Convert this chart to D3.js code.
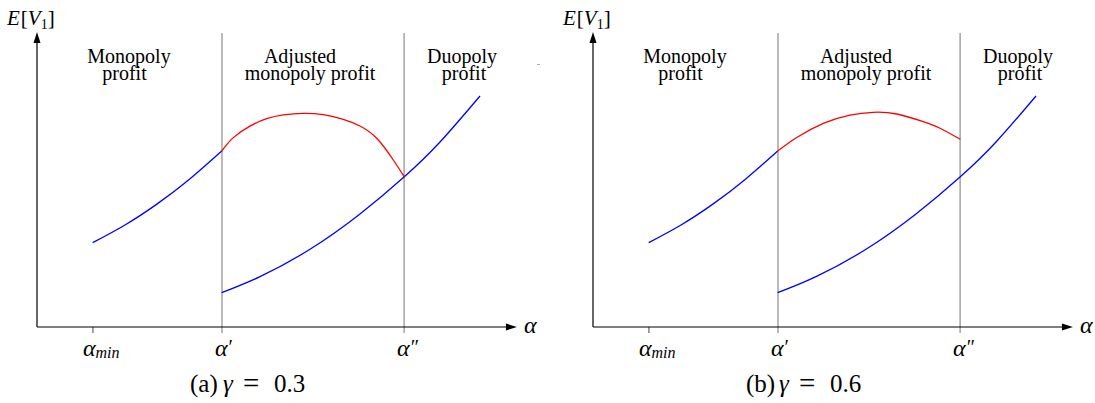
<!DOCTYPE html>
<html>
<head>
<meta charset="utf-8">
<script src="https://cdn.jsdelivr.net/npm/d3@7"></script>
<style>
  html, body { margin: 0; padding: 0; background: #fff; }
</style>
</head>
<body>
<svg id="chart" width="1095" height="403"></svg>
<script>
// ---- data (abstract units: alpha on [0,100], E[V1] on [0,100]) ----
const panelLetters = ["(a)", "(b)"];
const gammaValues = ["0.3", "0.6"];
const regionLabels = [["Monopoly", "profit"], ["Adjusted", "monopoly profit"], ["Duopoly", "profit"]];
const tickNames = ["min", "′", "″"];
const tickAlphas = [11.7, 38.7, 76.8];

// monopoly profit curve (left of alpha')
const monoAlpha = [11.65, 18.41, 25.15, 31.90, 38.64];
const monoValue = [28.58, 34.58, 41.73, 50.10, 59.66];

// duopoly profit curve (right of alpha')
const duoAlpha = [38.64, 46.65, 57.11, 67.57, 76.84, 84.31, 92.68];
const duoValue = [11.63, 17.05, 26.34, 38.31, 50.9, 62.71, 78.31];

// adjusted monopoly profit, gamma = 0.3
const adjAlphaA = [38.64, 41.07, 44.56, 48.05, 51.53, 55.71, 59.90, 64.08, 67.57, 71.07, 74.54, 76.84];
const adjValueA = [59.66, 64.2, 68.1, 70.6, 71.9, 72.44, 71.97, 70.41, 68.14, 63.97, 56.61, 50.9];

// adjusted monopoly profit, gamma = 0.6
const adjAlphaB = [38.64, 42.62, 48.18, 53.77, 58.64, 63.54, 69.10, 72.59, 76.84];
const adjValueB = [59.66, 64.24, 69.05, 71.86, 72.78, 72.20, 69.59, 67.36, 63.63];

const adjAlpha = [adjAlphaA, adjAlphaB];
const adjValue = [adjValueA, adjValueB];

// ---- drawing ----
const FONT = '"Liberation Serif"';
const svg = d3.select("#chart");
const panelOffset = 556;

const x = d3.scaleLinear().domain([0, 100]).range([37, 515]);
const y = d3.scaleLinear().domain([0, 100]).range([327, 32]);

const line = d3.line()
  .x(d => x(d[0]))
  .y(d => y(d[1]))
  .curve(d3.curveNatural);

const zip = (a, b) => a.map((v, i) => [v, b[i]]);
const txt = (sel) => sel.append("text").style("font-family", FONT);

panelLetters.forEach((letter, p) => {
  const g = svg.append("g").attr("transform", `translate(${p * panelOffset},0)`);

  // vertical region dividers at alpha' and alpha''
  [tickAlphas[1], tickAlphas[2]].forEach(a => {
    g.append("line")
      .attr("x1", x(a)).attr("x2", x(a))
      .attr("y1", 33).attr("y2", y(0) + 6)
      .attr("stroke", "#8c8c8c").attr("stroke-width", 1.2);
  });
  // alpha_min tick
  g.append("line")
    .attr("x1", x(tickAlphas[0])).attr("x2", x(tickAlphas[0]))
    .attr("y1", y(0)).attr("y2", y(0) + 6)
    .attr("stroke", "#555").attr("stroke-width", 1.1);

  // axes
  g.append("line")
    .attr("x1", x(0)).attr("x2", x(0))
    .attr("y1", y(0)).attr("y2", y(100) + 8)
    .attr("stroke", "#000").attr("stroke-width", 1.2);
  g.append("path")
    .attr("d", `M${x(0)},${y(100)} L${x(0) - 3.5},${y(100) + 11} L${x(0) + 3.5},${y(100) + 11} Z`)
    .attr("fill", "#000");
  g.append("line")
    .attr("x1", x(0)).attr("x2", x(100.4) - 8)
    .attr("y1", y(0)).attr("y2", y(0))
    .attr("stroke", "#000").attr("stroke-width", 1.2);
  g.append("path")
    .attr("d", `M${x(100.4)},${y(0)} L${x(100.4) - 11},${y(0) - 3.5} L${x(100.4) - 11},${y(0) + 3.5} Z`)
    .attr("fill", "#000");

  // axis labels
  const yl = txt(g).attr("x", 7).attr("y", 25).attr("font-size", 21);
  yl.append("tspan").style("font-style", "italic").text("E");
  yl.append("tspan").attr("dx", 1).text("[");
  yl.append("tspan").style("font-style", "italic").text("V");
  yl.append("tspan").attr("font-size", 14).attr("dy", 4).text("1");
  yl.append("tspan").attr("dy", -4).text("]");

  txt(g).attr("x", x(100.4) + 7).attr("y", y(0) + 6)
    .attr("font-size", 24).style("font-style", "italic").text("α");

  // tick labels
  tickAlphas.forEach((a, i) => {
    const t = txt(g).attr("y", 356).attr("font-size", 24).style("font-style", "italic");
    t.append("tspan").text("α");
    if (i === 0) {
      t.append("tspan").attr("font-size", 16).attr("dy", 2).text(tickNames[i]);
      t.attr("x", x(a) - 10);
    } else {
      t.append("tspan").style("font-style", "normal").attr("font-size", 20).attr("dy", -2).attr("dx", 1).text(tickNames[i]);
      t.attr("x", x(a) - 7);
    }
  });

  // region labels (two-line, one text element each)
  const regionCenters = [[129, 124.5], [300, 310], [462, 464]];
  regionLabels.forEach((lbl, i) => {
    const t = txt(g).attr("font-size", 20).attr("text-anchor", "middle");
    t.append("tspan").attr("x", regionCenters[i][0]).attr("y", 63).text(lbl[0]);
    t.append("tspan").attr("x", regionCenters[i][1]).attr("y", 80).text(lbl[1]);
  });

  // curves
  g.append("path").attr("d", line(zip(monoAlpha, monoValue)))
    .attr("fill", "none").attr("stroke", "#0000ff").attr("stroke-width", 1.3);
  g.append("path").attr("d", line(zip(duoAlpha, duoValue)))
    .attr("fill", "none").attr("stroke", "#0000ff").attr("stroke-width", 1.3);
  g.append("path").attr("d", line(zip(adjAlpha[p], adjValue[p])))
    .attr("fill", "none").attr("stroke", "#ff0000").attr("stroke-width", 1.3);

  // caption
  const cap = txt(g).attr("y", 392).attr("font-size", 25);
  cap.append("tspan").attr("x", 190).text(letter);
  cap.append("tspan").attr("x", 223).style("font-style", "italic").text("γ");
  cap.append("tspan").attr("x", 243).attr("font-size", 29).attr("dy", 1).text("=");
  cap.append("tspan").attr("x", 274).attr("dy", -1).text(gammaValues[p]);
});

// small stray mark present in the original figure
svg.append("line").attr("x1", 537).attr("x2", 540).attr("y1", 64.5).attr("y2", 64.5)
  .attr("stroke", "#aaa").attr("stroke-width", 1);
</script>
</body>
</html>
